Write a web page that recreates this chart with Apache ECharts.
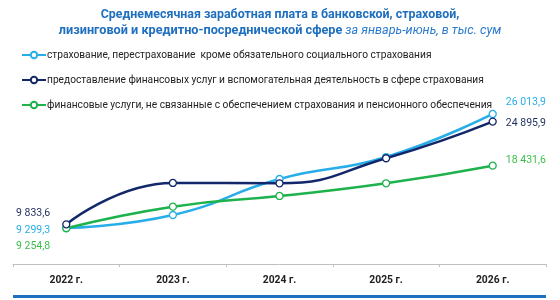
<!DOCTYPE html>
<html>
<head>
<meta charset="utf-8">
<script src="https://cdn.jsdelivr.net/npm/echarts@6/dist/echarts.min.js"></script>
<style>
  html, body { margin: 0; padding: 0; background: #fff; }
  #chart { width: 560px; height: 300px; }
</style>
</head>
<body>
<div id="chart"></div>
<script>
// данные
var years = ['2022 г.', '2023 г.', '2024 г.', '2025 г.', '2026 г.'];
var names = [
  'страхование, перестрахование  кроме обязательного социального страхования',
  'предоставление финансовых услуг и вспомогательная деятельность в сфере страхования',
  'финансовые услуги, не связанные с обеспечением страхования и пенсионного обеспечения'
];
var insurance = [9299.3, 11200, 16480, 19700, 26013.9];
var finServices = [9833.6, 15900, 15850, 19520, 24895.9];
var nonInsurance = [9254.8, 12420, 13990, 15850, 18431.6];

var FONT = 'Roboto, sans-serif';
var colors = ['#27aee8', '#13286b', '#1db24b'];
var labelColors = ['#27aee8', '#1e2d5e', '#3cbf4a'];
// смещения подписей первой и последней точки
var firstOffsets = [2, -11, 18];
var lastOffsets = [-12, 2, -5];

function fmt(v) {
  var parts = v.toFixed(1).split('.');
  return parts[0].replace(/\B(?=(\d{3})+(?!\d))/g, ' ') + ',' + parts[1];
}

function buildData(arr, idx) {
  return arr.map(function (v, i) {
    var item = { value: v };
    if (i === 0) {
      item.label = { show: true, position: 'left', distance: 12, offset: [0, firstOffsets[idx]] };
    } else if (i === arr.length - 1) {
      item.label = { show: true, position: 'right', distance: 9, offset: [0, lastOffsets[idx]] };
    }
    return item;
  });
}

var seriesValues = [insurance, finServices, nonInsurance];

document.addEventListener('DOMContentLoaded', function () {
  var myChart = echarts.init(document.getElementById('chart'));

  var option = {
    animation: false,
    textStyle: { fontFamily: FONT },
    title: {
      text: 'Среднемесячная заработная плата в банковской, страховой,\n{b|лизинговой и кредитно-посреднической сфере} {i|за январь-июнь, в тыс. сум}',
      left: 'center',
      top: 2,
      textStyle: {
        fontFamily: FONT,
        fontSize: 12.4,
        fontWeight: 'bold',
        color: '#1f6fbf',
        lineHeight: 16,
        align: 'center',
        rich: {
          b: { fontFamily: FONT, fontSize: 12.7, fontWeight: 'bold', color: '#1f6fbf', lineHeight: 16 },
          i: { fontFamily: FONT, fontSize: 12.6, fontStyle: 'italic', fontWeight: 'normal', color: '#2a7ad0', lineHeight: 16 }
        }
      }
    },
    legend: {
      orient: 'vertical',
      left: 16,
      top: 45,
      itemWidth: 24,
      itemHeight: 8,
      itemGap: 15,
      textStyle: { fontFamily: FONT, fontSize: 10.2, color: '#222', padding: [0, 0, 0, -4] }
    },
    grid: { left: 13, right: 14, top: 59.5, bottom: 35.9, containLabel: false },
    xAxis: {
      type: 'category',
      data: years,
      boundaryGap: true,
      axisLine: { lineStyle: { color: '#bfbfbf', width: 1 } },
      axisTick: { show: true, length: 3, lineStyle: { color: '#bfbfbf' } },
      axisLabel: { fontFamily: FONT, fontSize: 10.3, fontWeight: 'bold', color: '#222', margin: 11 }
    },
    yAxis: {
      type: 'value',
      min: 4000,
      max: 34000,
      show: false,
      splitLine: { show: false }
    },
    graphic: [
      { type: 'rect', left: 13, top: 295, shape: { width: 533, height: 3 }, style: { fill: '#1f6fbf' } }
    ],
    series: seriesValues.map(function (arr, idx) {
      return {
        name: names[idx],
        type: 'line',
        smooth: 0.5,
        data: buildData(arr, idx),
        symbol: 'circle',
        symbolSize: 7,
        lineStyle: { color: colors[idx], width: 2.5 },
        itemStyle: { color: '#fff', borderColor: colors[idx], borderWidth: 1.3 },
        label: {
          show: false,
          fontFamily: FONT,
          fontSize: 10.5,
          color: labelColors[idx],
          formatter: function (p) { return fmt(p.value); }
        },
        z: idx === 1 ? 3 : 2
      };
    })
  };

  myChart.setOption(option);
  window.addEventListener('resize', function () { myChart.resize(); });
});
</script>
</body>
</html>
